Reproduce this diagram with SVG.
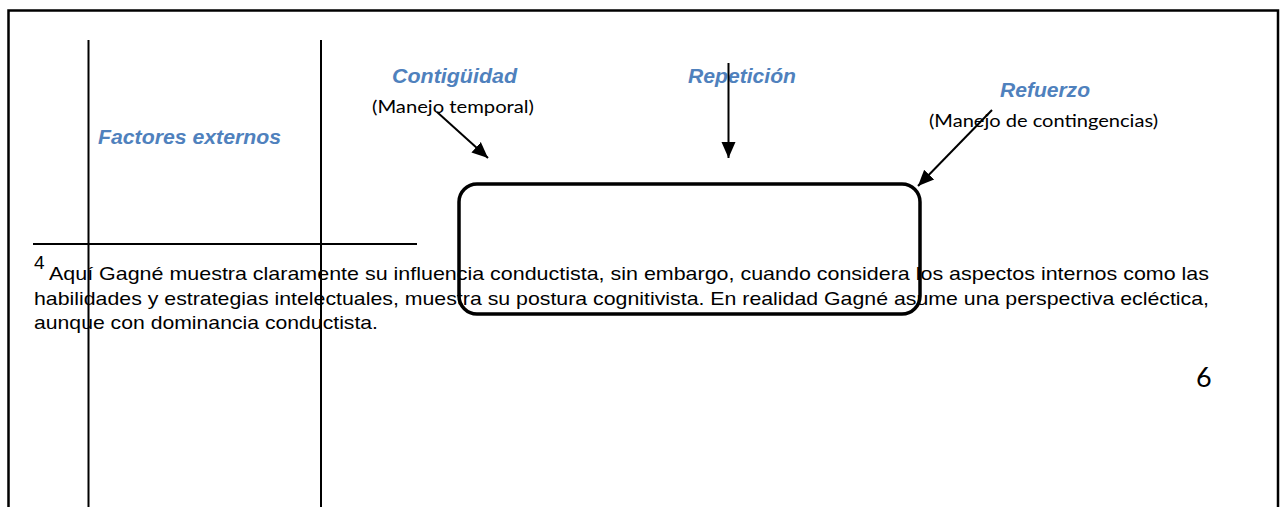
<svg xmlns="http://www.w3.org/2000/svg" width="1280" height="507" viewBox="0 0 1280 507">
<style>
.lbl{font-family:"Liberation Sans",Arial,sans-serif;font-weight:bold;font-style:italic;font-size:21px;fill:#4F81BD}
.sub{font-family:Lato,"Open Sans",sans-serif;font-size:18px;fill:#000}
.fn{font-family:"Liberation Sans",Arial,sans-serif;font-size:19px;fill:#000}
.ln{stroke:#000;stroke-width:2;fill:none}
.arr{stroke:#000;stroke-width:2;fill:none;marker-end:url(#ah)}
</style>
<defs>
<marker id="ah" markerUnits="userSpaceOnUse" markerWidth="16" markerHeight="16" viewBox="0 0 16 14" refX="16" refY="7" orient="auto">
<path d="M0,0 L16,7 L0,14 z" fill="#000"/>
</marker>
</defs>
<rect width="1280" height="507" fill="#fff"/>
<rect x="8.5" y="10.5" width="1269.5" height="520" fill="none" stroke="#000" stroke-width="2.5"/>
<g id="table-lines">
<line class="ln" x1="88.5" y1="40" x2="88.5" y2="507"/>
<line class="ln" x1="321" y1="40" x2="321" y2="507"/>
<line class="ln" x1="33" y1="244" x2="417" y2="244"/>
</g>
<g id="factores">
<text class="lbl" x="98" y="144" textLength="183" lengthAdjust="spacingAndGlyphs">Factores externos</text>
</g>
<g id="contiguidad">
<text class="lbl" x="392" y="83" textLength="125" lengthAdjust="spacingAndGlyphs">Contigüidad</text>
<text class="sub" x="372" y="113" textLength="162" lengthAdjust="spacingAndGlyphs">(Manejo temporal)</text>
</g>
<g id="repeticion">
<text class="lbl" x="688" y="83" textLength="108" lengthAdjust="spacingAndGlyphs">Repetición</text>
</g>
<g id="refuerzo">
<text class="lbl" x="1000" y="97" textLength="90" lengthAdjust="spacingAndGlyphs">Refuerzo</text>
<text class="sub" x="929" y="127" textLength="229" lengthAdjust="spacingAndGlyphs">(Manejo de contingencias)</text>
</g>
<g id="footnote">
<text class="fn" x="34" y="269" font-size="13">4</text>
<text class="fn" x="49" y="280" textLength="1160" lengthAdjust="spacingAndGlyphs">Aquí Gagné muestra claramente su influencia conductista, sin embargo, cuando considera los aspectos internos como las</text>
<text class="fn" x="34" y="304.5" textLength="1175" lengthAdjust="spacingAndGlyphs">habilidades y estrategias intelectuales, muestra su postura cognitivista. En realidad Gagné asume una perspectiva ecléctica,</text>
<text class="fn" x="34" y="328.5" textLength="344" lengthAdjust="spacingAndGlyphs">aunque con dominancia conductista.</text>
</g>
<g id="page-number">
<text x="1196" y="387" font-family="Lato,'Open Sans',sans-serif" font-size="27" fill="#000">6</text>
</g>
<g id="box">
<rect x="459" y="184" width="461" height="130" rx="18" ry="18" fill="none" stroke="#000" stroke-width="3.5"/>
</g>
<g id="connectors">
<line class="arr" x1="437" y1="112" x2="488" y2="158"/>
<line class="arr" x1="728.5" y1="63" x2="728.5" y2="158"/>
<line class="arr" x1="992" y1="110" x2="918" y2="186"/>
</g>
</svg>
